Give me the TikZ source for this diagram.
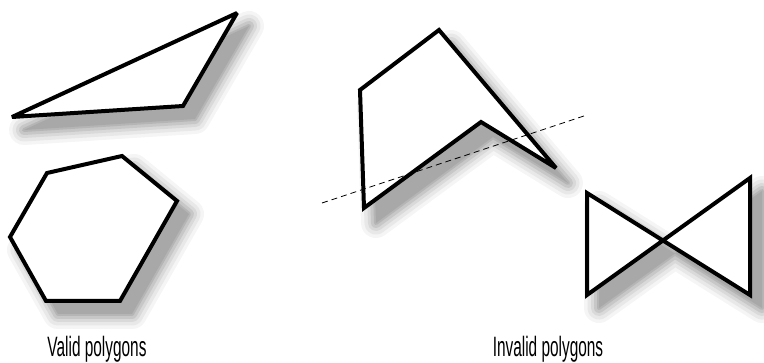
\documentclass[tikz,border=0pt]{standalone}
\usepackage{fontspec}
\setmainfont{Liberation Sans}
\tikzset{
  poly/.style={draw=black, line width=4pt, line join=miter, miter limit=3, fill=white},
  lbl/.style={font=\fontsize{28}{30}\selectfont, inner sep=0pt, anchor=base},
  cutline/.style={draw=black, line width=0.8pt, dash pattern=on 6pt off 4pt},
  shA/.style={fill=black!4, draw=black!4, line width=30pt, line join=round},
  shB/.style={fill=black!9, draw=black!9, line width=23pt, line join=round},
  shC/.style={fill=black!15, draw=black!15, line width=16pt, line join=round},
  shD/.style={fill=black!22, draw=black!22, line width=10pt, line join=round},
  shE/.style={fill=black!29, draw=black!29, line width=4pt, line join=round},
  shF/.style={fill=black!34, draw=none},
}
\begin{document}
\begin{tikzpicture}[x=1pt,y=-1pt]
\useasboundingbox (0,0) rectangle (764,363);
% shadows
\begin{scope}[xshift=12pt,yshift=-13pt]
  \foreach \s in {shA,shB,shC,shD,shE,shF}{
    \path[\s] (12,117) -- (237,13) -- (183,106) -- cycle;
    \path[\s] (47,173) -- (122,156) -- (177,201) -- (120,301) -- (46,301) -- (10,237) -- cycle;
    \path[\s] (360,92) -- (439,32) -- (556,170) -- (481,124) -- (364,210) -- cycle;
    \path[\s] (587,193) -- (750,295) -- (750,178) -- (587,295) -- cycle;
  }
\end{scope}
% coordinates
\coordinate (t1) at (12,117);
\coordinate (t2) at (237,13);
\coordinate (t3) at (183,106);
\coordinate (h1) at (47,173);
\coordinate (h2) at (122,156);
\coordinate (h3) at (177,201);
\coordinate (h4) at (120,301);
\coordinate (h5) at (46,301);
\coordinate (h6) at (10,237);
\coordinate (c1) at (360,90);
\coordinate (c2) at (439,30);
\coordinate (c3) at (556,168);
\coordinate (c4) at (481,122);
\coordinate (c5) at (364,208);
\coordinate (b1) at (587,193);
\coordinate (b2) at (750,295);
\coordinate (b3) at (750,178);
\coordinate (b4) at (587,295);
\coordinate (d1) at (322,203);
\coordinate (d2) at (587,115);
% shapes
\path[poly] (t1) -- (t2) -- (t3) -- cycle;
\path[poly] (h1) -- (h2) -- (h3) -- (h4) -- (h5) -- (h6) -- cycle;
\path[poly] (c1) -- (c2) -- (c3) -- (c4) -- (c5) -- cycle;
\path[poly] (b1) -- (b2) -- (b3) -- (b4) -- cycle;
\draw[cutline] (d1) -- (d2);
% labels
\node[lbl] (valid) at (97,357) {\scalebox{0.55}[1]{Valid polygons}};
\node[lbl] (invalid) at (548,357) {\scalebox{0.55}[1]{Invalid polygons}};
\end{tikzpicture}
\end{document}
